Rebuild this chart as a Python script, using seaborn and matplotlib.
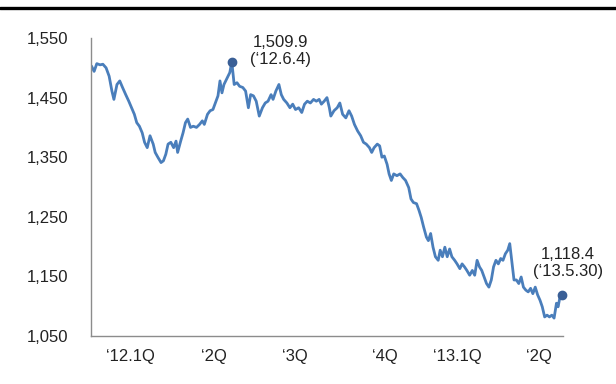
import numpy as np
import pandas as pd
import matplotlib
matplotlib.use("Agg")
import matplotlib.pyplot as plt
import seaborn as sns

# KRW per 100 JPY (x = trading-day index from Jan 2012)
day = [0, 2, 4, 6.5, 8.6, 11, 13.3, 15.4, 16.9, 19.2, 21.3, 23.4, 25.8, 28.1, 30.2,
       32.3, 34.1, 36.1, 38.2, 40, 42, 44.1, 46.5, 48, 50, 52.4, 54.2, 56, 57.7, 59.8,
       61.9, 63.7, 64.9, 67.2, 69, 70.8, 72.5, 74.6, 76.7, 79.1, 81.4, 83.5, 85, 87.4,
       89.4, 91.5, 93.3, 95.3, 96.8, 98.3, 99.8, 102.2, 104.2, 105.7, 107.5, 109.6,
       111.6, 114, 116.1, 118.2, 119.9, 122, 124.1, 126.4, 128.8, 130.9, 133, 135.3,
       136.8, 138.9, 141.2, 143, 144.8, 147.2, 149.5, 151.6, 153.7, 156.1, 158.4, 160.5,
       162.6, 164.9, 167.3, 169.4, 171.5, 173.2, 175.3, 177.4, 179.2, 180.3, 182.7,
       185.1, 187.1, 189.2, 191.6, 194, 196, 198.1, 200.5, 202.8, 204.9, 207, 209.4,
       211.1, 212.9, 215.3, 217.1, 218.8, 220.6, 222.7, 224.2, 225.9, 227.7, 230.1,
       232.5, 234.5, 236.6, 239, 240.7, 242.5, 244.9, 246.7, 248.4, 250.2, 252.3, 253.8,
       255.5, 257.3, 259.1, 261.2, 262.7, 264.4, 266.2, 268, 269.8, 271.5, 273.6, 275.4,
       277.5, 279.2, 281, 282.8, 284.9, 286.9, 288.7, 290.5, 292.3, 294, 295.8, 297.6,
       299.4, 301.2, 302.9, 304.7, 306.5, 308.3, 310, 311.8, 313.6, 315.1, 316.6, 318.3,
       320.1, 321.9, 323.7, 325.4, 327.2, 329, 330.8, 332.5, 334.3, 336.1, 337.9, 339.6,
       341.4, 343.2, 345, 346.8, 348.5, 350.3, 351.5, 353, 354.5]
rate = [1503, 1494, 1507, 1505, 1506, 1500, 1486, 1461, 1447, 1472, 1478, 1467, 1455,
        1444, 1433, 1422, 1408, 1402, 1391, 1375, 1366, 1386, 1372, 1358, 1350, 1341,
        1344, 1355, 1372, 1375, 1366, 1377, 1358, 1377, 1391, 1408, 1414, 1400, 1402,
        1400, 1405, 1411, 1405, 1422, 1428, 1430, 1441, 1453, 1478, 1458, 1472, 1483,
        1492, 1509.9, 1472, 1475, 1469, 1467, 1461, 1433, 1455, 1453, 1444, 1419, 1433,
        1441, 1444, 1455, 1447, 1461, 1472, 1455, 1447, 1441, 1433, 1439, 1430, 1433,
        1425, 1439, 1444, 1441, 1447, 1444, 1447, 1439, 1444, 1450, 1433, 1419, 1428,
        1433, 1441, 1422, 1416, 1428, 1419, 1405, 1394, 1386, 1375, 1372, 1366, 1358,
        1366, 1372, 1369, 1350, 1352, 1338, 1322, 1311, 1322, 1319, 1322, 1316, 1311,
        1299, 1280, 1274, 1272, 1261, 1249, 1233, 1216, 1210, 1222, 1199, 1183, 1177,
        1194, 1183, 1199, 1183, 1196, 1183, 1177, 1171, 1163, 1171, 1166, 1160, 1152,
        1160, 1152, 1177, 1166, 1160, 1149, 1138, 1132, 1144, 1166, 1177, 1171, 1180,
        1177, 1188, 1194, 1205, 1177, 1144, 1144, 1138, 1149, 1132, 1127, 1124, 1130,
        1121, 1132, 1119, 1110, 1099, 1082, 1085, 1082, 1085, 1080, 1105, 1099, 1116,
        1118.4]

yticks = [1050, 1150, 1250, 1350, 1450, 1550]
quarter_marks = [0, 60, 121, 181, 242, 302]
quarter_pos = [29, 92, 153, 221, 276, 337]
quarter_labels = ["\u201812.1Q", "\u20182Q", "\u20183Q", "\u20184Q", "\u201813.1Q", "\u20182Q"]

df = pd.DataFrame({"day": day, "rate": rate})

sns.set_style("white")
plt.rcParams["font.family"] = ["Liberation Sans", "DejaVu Sans"]

fig = plt.figure(figsize=(6.16, 3.84), dpi=100)
ax = fig.add_axes([0.1485, 0.125, 0.765, 0.776])

line_color = "#4a7ebb"
sns.lineplot(data=df, x="day", y="rate", ax=ax, color=line_color, linewidth=2.0)

# highlighted points: the high and the latest value
hi = df.loc[df["rate"].idxmax()]
last = df.iloc[-1]
for pt in (hi, last):
    ax.plot(pt["day"], pt["rate"], "o", color="#3a5f96", markersize=6,
            zorder=5, clip_on=False)

ax.annotate("1,509.9\n(\u201812.6.4)", (hi["day"], hi["rate"]), xytext=(35, 8),
            textcoords="offset points", ha="center", va="center", fontsize=12,
            linespacing=1.15, color="#222222")
ax.annotate("1,118.4\n(\u201813.5.30)", (last["day"], last["rate"]), xytext=(4, 23),
            textcoords="offset points", ha="center", va="center", fontsize=12,
            linespacing=1.15, color="#222222")

ax.set_xlim(0, 355)
ax.set_ylim(1050, 1550)
ax.set_yticks(yticks)
ax.set_yticklabels([f"{v:,}" for v in yticks])
ax.set_xticks(quarter_marks)
ax.set_xticklabels([])
ax.set_xticks(quarter_pos, minor=True)
ax.set_xticklabels(quarter_labels, minor=True)
ax.set_xlabel("")
ax.set_ylabel("")

for s in ("top", "right"):
    ax.spines[s].set_visible(False)
for s in ("left", "bottom"):
    ax.spines[s].set_color("#8c8c8c")
    ax.spines[s].set_linewidth(1.0)

ax.tick_params(axis="y", direction="out", length=6.5, width=1, color="#8c8c8c",
               labelsize=12, pad=10, labelcolor="#222222")
ax.tick_params(axis="x", which="major", direction="out", length=5, width=1,
               color="#8c8c8c")
ax.tick_params(axis="x", which="minor", length=0, labelsize=12, pad=9,
               labelcolor="#222222")

# thick rule across the top
fig.add_artist(plt.Line2D([0, 1], [1 - 7.5 / 384, 1 - 7.5 / 384], color="black",
                          linewidth=2.4, transform=fig.transFigure))

fig.savefig("out.png", dpi=100)
